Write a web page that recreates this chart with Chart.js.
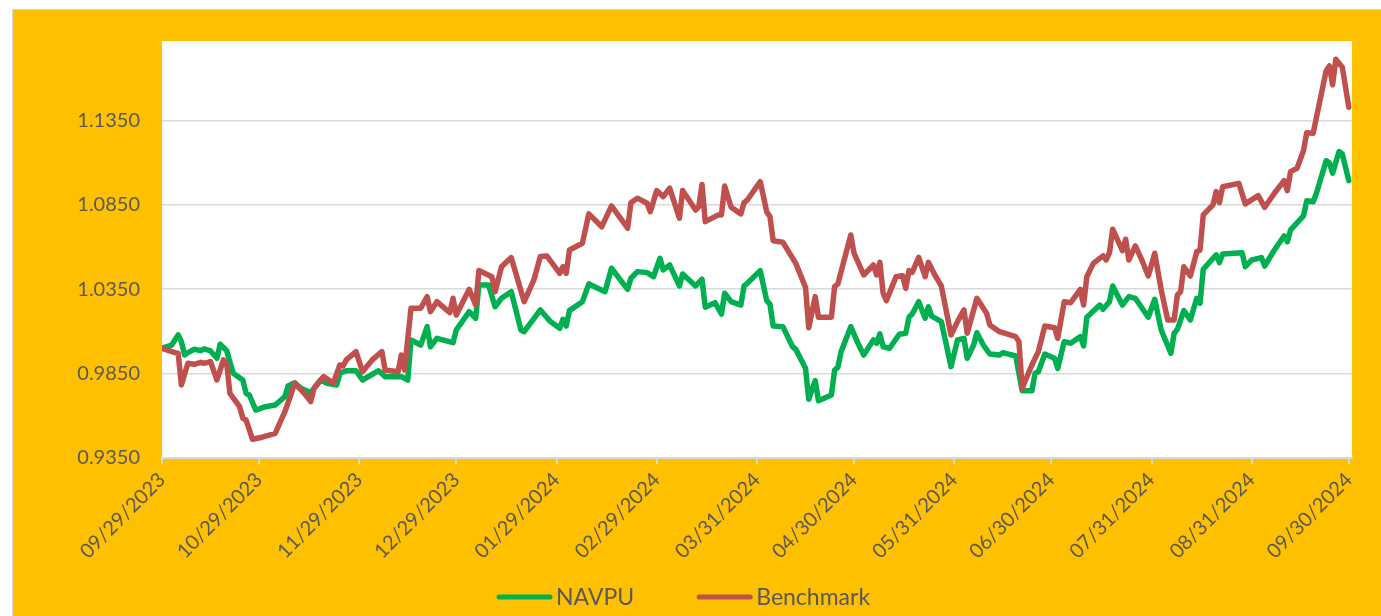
<!DOCTYPE html>
<html>
<head>
<meta charset="utf-8">
<script src="https://cdn.jsdelivr.net/npm/chart.js@4.4.1/dist/chart.umd.min.js"></script>
<style>
  html, body { margin: 0; padding: 0; background: #fff; overflow: hidden; }
  #frame { position: absolute; left: 12px; top: 9px; width: 1380px; height: 620px; background: #FFC000; border: 1px solid #D9D9D9; }
  #navChart { position: absolute; left: 0; top: 0; }
</style>
</head>
<body>
<div id="frame"></div>
<canvas id="navChart" width="1381" height="616"></canvas>
<script>
// NAVPU vs Benchmark, 09/29/2023 - 09/30/2024
// x = days since 09/29/2023

const xTickLabels = [
  '09/29/2023', '10/29/2023', '11/29/2023', '12/29/2023', '01/29/2024',
  '02/29/2024', '03/31/2024', '04/30/2024', '05/31/2024', '06/30/2024',
  '07/31/2024', '08/31/2024', '09/30/2024'
];

const yTicks = [0.9350, 0.9850, 1.0350, 1.0850, 1.1350];

const navDays = [
  0, 3, 5, 6, 7, 8, 10, 12, 13, 15, 17, 18, 20, 22, 25, 26, 27, 29, 32, 35,
  38, 39, 41, 43, 46, 49, 51, 54, 55, 57, 60, 62, 67, 69, 74, 76, 77, 80, 82, 83,
  85, 90, 91, 95, 97, 98, 101, 103, 105, 108, 111, 112, 117, 120, 123, 124, 125, 126, 130, 132,
  137, 139, 144, 145, 147, 150, 152, 154, 155, 157, 160, 161, 165, 167, 168, 171, 173, 174, 176, 179,
  180, 181, 185, 187, 188, 189, 192, 195, 196, 199, 200, 202, 203, 207, 208, 209, 210, 213, 215, 217,
  220, 221, 222, 223, 225, 228, 230, 231, 232, 234, 236, 237, 238, 241, 244, 246, 248, 249, 251, 252,
  254, 256, 259, 260, 264, 266, 269, 270, 271, 273, 276, 277, 279, 281, 284, 285, 286, 290, 291, 293,
  294, 297, 299, 301, 305, 307, 309, 312, 313, 314, 316, 318, 320, 321, 322, 326, 327, 328, 334, 335,
  337, 340, 341, 344, 347, 348, 349, 353, 354, 356, 357, 360, 361, 362, 364, 365, 367
];

const navpu = [
  1.0000, 1.0019, 1.0079, 1.0039, 0.9960, 0.9974, 0.9994, 0.9986, 0.9996, 0.9984, 0.9941, 1.0024, 0.9986, 0.9852, 0.9812, 0.9733, 0.9723, 0.9634, 0.9654, 0.9664,
  0.9713, 0.9777, 0.9796, 0.9763, 0.9737, 0.9812, 0.9793, 0.9782, 0.9852, 0.9867, 0.9867, 0.9812, 0.9867, 0.9832, 0.9832, 0.9812, 1.0049, 1.0019, 1.0128, 1.0009,
  1.0059, 1.0033, 1.0108, 1.0217, 1.0178, 1.0375, 1.0375, 1.0246, 1.0296, 1.0335, 1.0108, 1.0098, 1.0227, 1.0160, 1.0118, 1.0172, 1.0132, 1.0223, 1.0276, 1.0381,
  1.0335, 1.0474, 1.0349, 1.0415, 1.0454, 1.0448, 1.0424, 1.0533, 1.0464, 1.0493, 1.0369, 1.0440, 1.0369, 1.0409, 1.0243, 1.0270, 1.0203, 1.0326, 1.0276, 1.0256,
  1.0369, 1.0385, 1.0460, 1.0282, 1.0262, 1.0132, 1.0128, 1.0009, 0.9994, 0.9881, 0.9698, 0.9808, 0.9689, 0.9723, 0.9871, 0.9887, 0.9980, 1.0128, 1.0039, 0.9960,
  1.0049, 1.0030, 1.0085, 1.0009, 1.0000, 1.0083, 1.0089, 1.0184, 1.0203, 1.0276, 1.0178, 1.0246, 1.0191, 1.0158, 0.9891, 1.0049, 1.0059, 0.9941, 1.0019, 1.0092,
  1.0019, 0.9966, 0.9960, 0.9974, 0.9954, 0.9749, 0.9749, 0.9852, 0.9861, 0.9966, 0.9941, 0.9881, 1.0039, 1.0030, 1.0069, 1.0014, 1.0184, 1.0256, 1.0231, 1.0276,
  1.0369, 1.0256, 1.0306, 1.0296, 1.0184, 1.0290, 1.0108, 0.9970, 1.0089, 1.0112, 1.0223, 1.0168, 1.0296, 1.0267, 1.0468, 1.0553, 1.0507, 1.0559, 1.0566, 1.0483,
  1.0523, 1.0537, 1.0487, 1.0582, 1.0665, 1.0631, 1.0701, 1.0784, 1.0874, 1.0868, 1.0918, 1.1111, 1.1099, 1.1037, 1.1165, 1.1151, 1.0993
];

const benchDays = [
  0, 4, 5, 6, 8, 10, 12, 13, 15, 17, 19, 20, 21, 24, 25, 26, 28, 31, 35, 38,
  40, 41, 44, 46, 47, 50, 53, 55, 56, 57, 60, 62, 65, 68, 69, 73, 74, 75, 77, 80,
  82, 83, 85, 89, 90, 91, 95, 97, 98, 102, 103, 105, 108, 112, 115, 117, 119, 123, 124, 125,
  126, 130, 132, 136, 139, 144, 145, 147, 150, 151, 153, 155, 157, 160, 161, 165, 166, 167, 168, 172,
  173, 174, 176, 179, 180, 181, 185, 187, 188, 189, 192, 196, 199, 200, 202, 203, 207, 208, 209, 213,
  214, 217, 220, 221, 222, 223, 224, 227, 229, 230, 231, 232, 234, 236, 237, 239, 241, 244, 246, 248,
  249, 252, 255, 256, 259, 264, 265, 266, 269, 271, 273, 276, 277, 279, 281, 284, 285, 286, 288, 291,
  292, 293, 294, 297, 298, 299, 301, 303, 305, 307, 309, 311, 313, 314, 315, 316, 318, 320, 321, 322,
  325, 326, 327, 328, 333, 335, 339, 341, 344, 347, 348, 349, 351, 353, 354, 356, 360, 361, 362, 363,
  365, 367
];

const benchmark = [
  1.0000, 0.9974, 0.9970, 0.9782, 0.9911, 0.9905, 0.9917, 0.9911, 0.9921, 0.9812, 0.9931, 0.9911, 0.9733, 0.9654, 0.9585, 0.9575, 0.9461, 0.9473, 0.9496, 0.9624,
  0.9733, 0.9793, 0.9733, 0.9684, 0.9763, 0.9832, 0.9793, 0.9901, 0.9895, 0.9931, 0.9980, 0.9861, 0.9931, 0.9980, 0.9871, 0.9861, 0.9960, 0.9871, 1.0237, 1.0237,
  1.0306, 1.0217, 1.0276, 1.0211, 1.0296, 1.0197, 1.0349, 1.0256, 1.0460, 1.0424, 1.0335, 1.0483, 1.0537, 1.0276, 1.0405, 1.0543, 1.0547, 1.0444, 1.0483, 1.0444,
  1.0582, 1.0622, 1.0796, 1.0720, 1.0843, 1.0711, 1.0862, 1.0889, 1.0859, 1.0809, 1.0934, 1.0898, 1.0948, 1.0770, 1.0934, 1.0819, 1.0839, 1.0970, 1.0750, 1.0790,
  1.0790, 1.0961, 1.0835, 1.0796, 1.0862, 1.0878, 1.0987, 1.0809, 1.0780, 1.0637, 1.0628, 1.0503, 1.0361, 1.0122, 1.0306, 1.0184, 1.0184, 1.0365, 1.0381, 1.0671,
  1.0563, 1.0434, 1.0493, 1.0434, 1.0509, 1.0326, 1.0282, 1.0424, 1.0430, 1.0355, 1.0460, 1.0450, 1.0539, 1.0424, 1.0509, 1.0434, 1.0369, 1.0079, 1.0158, 1.0227,
  1.0089, 1.0296, 1.0207, 1.0138, 1.0098, 1.0069, 1.0039, 0.9763, 0.9901, 0.9980, 1.0132, 1.0122, 1.0059, 1.0276, 1.0270, 1.0349, 1.0256, 1.0424, 1.0503, 1.0547,
  1.0523, 1.0566, 1.0705, 1.0578, 1.0646, 1.0523, 1.0606, 1.0523, 1.0428, 1.0563, 1.0345, 1.0168, 1.0168, 1.0316, 1.0335, 1.0483, 1.0428, 1.0572, 1.0582, 1.0790,
  1.0849, 1.0928, 1.0862, 1.0957, 1.0977, 1.0855, 1.0904, 1.0835, 1.0918, 1.0993, 1.0934, 1.1046, 1.1066, 1.1171, 1.1277, 1.1274, 1.1644, 1.1672, 1.1560, 1.1712,
  1.1665, 1.1428
];

const startUTC = Date.UTC(2023, 8, 29);
const dayOf = s => {
  const [m, d, y] = s.split('/').map(Number);
  return Math.round((Date.UTC(y, m - 1, d) - startUTC) / 864e5);
};
const xTickDays = xTickLabels.map(dayOf);

const textColor = '#595959';
const gridColor = '#D9D9D9';
const FONT = 'Lato, "Open Sans", sans-serif';

// ── 自訂圖例：線段樣本 + 文字 ──
const lineLegend = {
  id: 'lineLegend',
  afterDraw(chart) {
    const { ctx } = chart;
    const sample = 55, gap = 4, itemGap = 63, cy = 597;
    ctx.save();
    ctx.font = '23px ' + FONT;
    ctx.textBaseline = 'middle';
    let x = 497;
    chart.data.datasets.forEach(ds => {
      ctx.strokeStyle = ds.borderColor;
      ctx.lineWidth = 5;
      ctx.lineCap = 'round';
      ctx.beginPath();
      ctx.moveTo(x + 2, cy);
      ctx.lineTo(x + sample - 2, cy);
      ctx.stroke();
      x += sample + gap;
      ctx.fillStyle = textColor;
      ctx.fillText(ds.label, x, cy + 1);
      x += ctx.measureText(ds.label).width + itemGap;
    });
    ctx.restore();
  }
};

new Chart(document.getElementById('navChart'), {
  type: 'line',
  data: {
    datasets: [
      {
        label: 'NAVPU',
        data: navDays.map((d, i) => ({ x: d, y: navpu[i] })),
        borderColor: '#00B050',
        order: 1
      },
      {
        label: 'Benchmark',
        data: benchDays.map((d, i) => ({ x: d, y: benchmark[i] })),
        borderColor: '#C0504D',
        order: 0
      }
    ]
  },
  options: {
    responsive: false,
    animation: false,
    layout: { padding: { top: 41, right: 29, left: 0, bottom: 58 } },
    elements: {
      line: { borderWidth: 5.5, tension: 0, borderJoinStyle: 'round', borderCapStyle: 'round', fill: false },
      point: { radius: 0, hoverRadius: 0 }
    },
    plugins: {
      legend: { display: false },
      tooltip: { enabled: false }
    },
    scales: {
      x: {
        type: 'linear',
        min: 0,
        max: 368,
        afterBuildTicks: s => { s.ticks = xTickDays.map(v => ({ value: v })); },
        afterFit: s => { s.height = 100; },
        ticks: {
          autoSkip: false,
          minRotation: 45,
          maxRotation: 45,
          padding: 4,
          color: textColor,
          font: { family: FONT, size: 20 },
          callback: v => xTickLabels[xTickDays.indexOf(v)]
        },
        grid: { display: true, drawOnChartArea: false, drawTicks: true, tickLength: 6, color: gridColor, lineWidth: 2 },
        border: { display: true, color: gridColor, width: 2 }
      },
      y: {
        min: 0.935,
        max: 1.182,
        afterBuildTicks: s => { s.ticks = yTicks.map(v => ({ value: v })); },
        afterFit: s => { s.width = 162; },
        ticks: {
          padding: 22,
          color: textColor,
          font: { family: FONT, size: 20 },
          callback: v => v.toFixed(4)
        },
        grid: { color: gridColor, lineWidth: 1.5, drawTicks: false },
        border: { display: false }
      }
    }
  },
  plugins: [
    {
      id: 'plotBg',
      beforeDraw(chart) {
        const { ctx, chartArea: a } = chart;
        ctx.save();
        ctx.fillStyle = '#FFFFFF';
        ctx.fillRect(a.left, a.top, a.right - a.left, a.bottom - a.top);
        ctx.restore();
      }
    },
    lineLegend
  ]
});
</script>
</body>
</html>
